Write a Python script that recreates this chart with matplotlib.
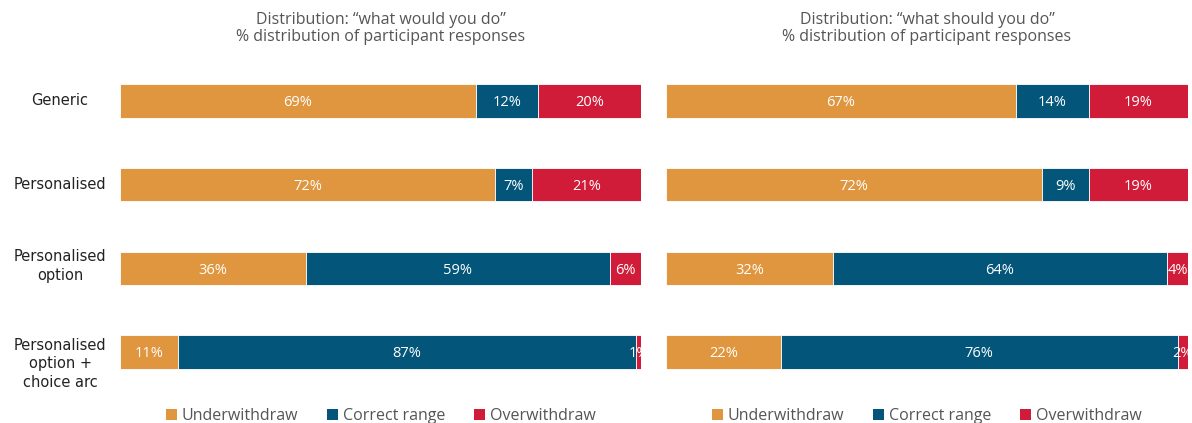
import numpy as np
import matplotlib
matplotlib.use("Agg")
from matplotlib import pyplot as plt
from matplotlib.patches import Patch

categories = ["Generic", "Personalised", "Personalised\noption", "Personalised\noption +\nchoice arc"]
series = ["Underwithdraw", "Correct range", "Overwithdraw"]
colors = ["#E0963F", "#03567A", "#D01C38"]

# displayed percentages, rows = categories, cols = series
would_do = [[69, 12, 20],
            [72, 7, 21],
            [36, 59, 6],
            [11, 87, 1]]
should_do = [[67, 14, 19],
             [72, 9, 19],
             [32, 64, 4],
             [22, 76, 2]]

titles = ["Distribution: \u201cwhat would you do\u201d\n% distribution of participant responses",
          "Distribution: \u201cwhat should you do\u201d\n% distribution of participant responses"]

plt.rcParams['font.family'] = ['Open Sans', 'DejaVu Sans']
grey = "#555555"

fig = plt.figure(figsize=(11.92, 4.23), dpi=100)
axes = [fig.add_axes([0.1007, 0.0686, 0.4371, 0.792]),
        fig.add_axes([0.5587, 0.0686, 0.4379, 0.792])]

for ax, data, title in zip(axes, [would_do, should_do], titles):
    arr = np.array(data, dtype=float)
    shares = arr / arr.sum(axis=1, keepdims=True) * 100
    y = np.arange(len(categories))
    left = np.zeros(len(categories))
    for j, name in enumerate(series):
        bars = ax.barh(y, shares[:, j], left=left, height=0.4, color=colors[j],
                       edgecolor="white", linewidth=0.6, label=name)
        for i, b in enumerate(bars):
            cx = b.get_x() + b.get_width() / 2
            ax.text(cx, y[i] + 0.02, f"{int(arr[i, j])}%", ha="center", va="center",
                    color="white", fontsize=10.5, clip_on=True)
        left += shares[:, j]
    ax.set_xlim(0, 100)
    ax.set_ylim(3.5, -0.5)
    ax.set_xticks([])
    ax.set_yticks([])
    for s in ax.spines.values():
        s.set_visible(False)
    ax.set_title(title, fontsize=11.5, color=grey, pad=13, linespacing=1.05)
    handles = [Patch(facecolor=c, label=n) for c, n in zip(colors, series)]
    ax.legend(handles=handles, loc="center", bbox_to_anchor=(0.5, -0.065),
              ncol=3, frameon=False, fontsize=11.5, handlelength=0.7,
              handleheight=0.7, handletextpad=0.3, columnspacing=1.8,
              labelcolor=grey)

# category labels, centred in the left margin
label_shift = [0.0, 0.0, -0.03, 0.14]
trans = axes[0].get_yaxis_transform()
for i, cat in enumerate(categories):
    axes[0].text(-0.115, i + label_shift[i], cat, transform=trans, ha="center",
                 va="center", multialignment="center", fontsize=10.5,
                 family="DejaVu Sans", color="#222222", linespacing=1.28)

fig.savefig("out.png", dpi=100)
